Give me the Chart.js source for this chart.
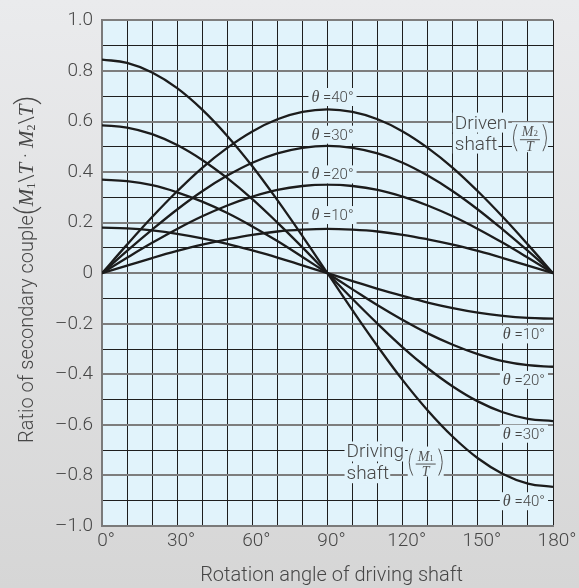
<!DOCTYPE html>
<html lang="en">
<head>
<meta charset="UTF-8" />
<title>Ratio of secondary couple</title>
<script src="https://cdn.jsdelivr.net/npm/chart.js"></script>
<style>
  html, body { margin: 0; padding: 0; }
  body { width: 579px; height: 588px; background: linear-gradient(#eaebed, #d6d6d6); overflow: hidden; }
  #wrap { position: relative; width: 579px; height: 588px; }
</style>
</head>
<body>
<div id="wrap"><canvas id="chart"></canvas></div>
<script>
  // rotation angle of the driving shaft (deg)
  const angles = [0, 10, 20, 30, 40, 50, 60, 70, 80, 90, 100, 110, 120, 130, 140, 150, 160, 170, 180];

  // driven shaft M2/T
  const driven10 = [0, 0.03, 0.06, 0.088, 0.113, 0.134, 0.152, 0.165, 0.172, 0.175, 0.172, 0.165, 0.152, 0.134, 0.113, 0.088, 0.06, 0.03, 0];
  const driven20 = [0, 0.061, 0.12, 0.175, 0.225, 0.268, 0.303, 0.33, 0.345, 0.35, 0.345, 0.33, 0.303, 0.268, 0.225, 0.175, 0.12, 0.061, 0];
  const driven30 = [0, 0.088, 0.172, 0.252, 0.324, 0.386, 0.437, 0.474, 0.496, 0.504, 0.496, 0.474, 0.437, 0.386, 0.324, 0.252, 0.172, 0.088, 0];
  const driven40 = [0, 0.113, 0.222, 0.324, 0.417, 0.496, 0.561, 0.609, 0.638, 0.648, 0.638, 0.609, 0.561, 0.496, 0.417, 0.324, 0.222, 0.113, 0];

  // driving shaft M1/T
  const driving10 = [0.18, 0.177, 0.169, 0.156, 0.138, 0.116, 0.09, 0.062, 0.031, 0, -0.031, -0.062, -0.09, -0.116, -0.138, -0.156, -0.169, -0.177, -0.18];
  const driving20 = [0.37, 0.364, 0.348, 0.32, 0.283, 0.238, 0.185, 0.127, 0.064, 0, -0.064, -0.127, -0.185, -0.238, -0.283, -0.32, -0.348, -0.364, -0.37];
  const driving30 = [0.585, 0.576, 0.55, 0.507, 0.448, 0.376, 0.293, 0.2, 0.102, 0, -0.102, -0.2, -0.293, -0.376, -0.448, -0.507, -0.55, -0.576, -0.585];
  const driving40 = [0.845, 0.832, 0.794, 0.732, 0.647, 0.543, 0.423, 0.289, 0.147, 0, -0.147, -0.289, -0.423, -0.543, -0.647, -0.732, -0.794, -0.832, -0.845];

  const thetaLabels = ['10°', '20°', '30°', '40°'];

  const SANS = "Roboto, 'Liberation Sans', sans-serif";
  const SERIF = "'Liberation Serif', 'DejaVu Serif', serif";
  const PLOT_BG = '#e1f3fb';
  const TEXT = '#474747';

  function series(vals) {
    return vals.map((v, i) => ({ x: angles[i], y: v }));
  }

  const allSeries = [driven10, driven20, driven30, driven40, driving10, driving20, driving30, driving40];

  const plotBg = {
    id: 'plotBg',
    beforeDraw(chart) {
      const a = chart.chartArea, c = chart.ctx;
      c.save();
      c.fillStyle = PLOT_BG;
      c.fillRect(a.left, a.top, a.right - a.left, a.bottom - a.top);
      c.restore();
    }
  };

  // box behind a piece of text, same colour as the plot so grid lines are hidden
  function box(c, x, y, w, h) {
    c.fillStyle = PLOT_BG;
    c.fillRect(x, y, w, h);
  }

  function drawTheta(c, label, cx, cy) {
    c.font = 'italic 16px ' + SERIF;
    const w1 = c.measureText('θ').width;
    c.font = '300 15px ' + SANS;
    const w2 = c.measureText(' =' + label).width;
    const w = w1 + w2;
    const x0 = cx - w / 2;
    box(c, x0 - 3, cy - 9, w + 6, 18);
    c.fillStyle = TEXT;
    c.textBaseline = 'alphabetic';
    c.textAlign = 'left';
    c.font = 'italic 16px ' + SERIF;
    c.fillText('θ', x0, cy + 5);
    c.font = '300 15px ' + SANS;
    c.fillText(' =' + label, x0 + w1, cy + 5);
  }

  function drawFrac(c, cx, by, sub) {
    box(c, cx - 18, by - 17, 36, 30);
    c.strokeStyle = '#555';
    c.fillStyle = '#555';
    c.lineWidth = 1;
    // parentheses
    c.beginPath();
    c.moveTo(cx - 13, by - 15);
    c.quadraticCurveTo(cx - 20, by - 1, cx - 13, by + 12);
    c.moveTo(cx + 13, by - 15);
    c.quadraticCurveTo(cx + 20, by - 1, cx + 13, by + 12);
    c.stroke();
    // bar
    c.beginPath();
    c.moveTo(cx - 10, by + 0.5);
    c.lineTo(cx + 10, by + 0.5);
    c.stroke();
    c.textBaseline = 'alphabetic';
    c.textAlign = 'left';
    c.font = 'italic 14px ' + SERIF;
    const mw = c.measureText('M').width;
    c.font = '9px ' + SERIF;
    const sw = c.measureText(sub).width;
    const nx = cx - (mw + sw) / 2;
    c.font = 'italic 14px ' + SERIF;
    c.fillText('M', nx, by - 3);
    c.font = '9px ' + SERIF;
    c.fillText(sub, nx + mw, by - 3);
    c.font = 'italic 14px ' + SERIF;
    c.textAlign = 'center';
    c.fillText('T', cx, by + 12);
  }

  function drawWords(c, words, x, baselines) {
    c.font = '300 19px ' + SANS;
    c.textAlign = 'left';
    c.textBaseline = 'alphabetic';
    words.forEach((t, i) => {
      const w = c.measureText(t).width;
      box(c, x - 2, baselines[i] - 16, w + 3, 20);
      c.fillStyle = TEXT;
      c.fillText(t, x, baselines[i]);
    });
  }

  const annotations = {
    id: 'annotations',
    afterDatasetsDraw(chart) {
      const c = chart.ctx;
      const xs = chart.scales.x, ys = chart.scales.y;
      c.save();
      // driven labels near the top of each curve
      const drivenY = [0.23, 0.391, 0.548, 0.697];
      thetaLabels.forEach((t, i) => drawTheta(c, t, xs.getPixelForValue(92), ys.getPixelForValue(drivenY[i])));
      // driving labels at the right
      const drivingY = [-0.242, -0.422, -0.635, -0.902];
      thetaLabels.forEach((t, i) => drawTheta(c, t, xs.getPixelForValue(168.4), ys.getPixelForValue(drivingY[i])));

      drawWords(c, ['Driven', 'shaft'], xs.getPixelForValue(140.8), [ys.getPixelForValue(0.572), ys.getPixelForValue(0.489)]);
      drawFrac(c, xs.getPixelForValue(170.8), ys.getPixelForValue(0.53), '2');

      drawWords(c, ['Driving', 'shaft'], xs.getPixelForValue(97.6), [ys.getPixelForValue(-0.729), ys.getPixelForValue(-0.815)]);
      drawFrac(c, xs.getPixelForValue(129.2), ys.getPixelForValue(-0.753), '1');
      c.restore();
    },
    afterDraw(chart) {
      const c = chart.ctx;
      const a = chart.chartArea;
      c.save();
      c.fillStyle = TEXT;
      c.textBaseline = 'alphabetic';
      c.textAlign = 'center';
      // x axis title
      c.font = '300 20px ' + SANS;
      c.fillText('Rotation angle of driving shaft', (a.left + a.right) / 2 + 4, 581);

      // y axis title, built from pieces
      const parts = [
        { t: 'Ratio of secondary couple', f: '300 20px ' + SANS, dy: 0 },
        { t: '(', f: '300 28px ' + SANS, dy: 2 },
        { t: 'M', f: 'italic 21px ' + SERIF, dy: 0 },
        { t: '1', f: '12px ' + SERIF, dy: 2 },
        { t: '\\', f: '300 21px ' + SANS, dy: 0 },
        { t: 'T', f: 'italic 21px ' + SERIF, dy: 0 },
        { t: ' · ', f: '300 20px ' + SANS, dy: -1 },
        { t: 'M', f: 'italic 21px ' + SERIF, dy: 0 },
        { t: '2', f: '12px ' + SERIF, dy: 2 },
        { t: '\\', f: '300 21px ' + SANS, dy: 0 },
        { t: 'T', f: 'italic 21px ' + SERIF, dy: 0 },
        { t: ')', f: '300 28px ' + SANS, dy: 2 }
      ];
      let total = 0;
      parts.forEach(p => { c.font = p.f; p.w = c.measureText(p.t).width; total += p.w; });
      c.translate(33, (a.top + a.bottom) / 2 - 4);
      c.rotate(-Math.PI / 2);
      c.textAlign = 'left';
      let px = -total / 2;
      parts.forEach(p => {
        c.font = p.f;
        c.fillText(p.t, px, p.dy);
        px += p.w;
      });
      c.restore();
    }
  };

  new Chart(document.getElementById('chart'), {
    type: 'line',
    data: {
      datasets: allSeries.map(s => ({
        data: series(s),
        borderColor: '#1c1c1c',
        borderWidth: 2.3,
        pointRadius: 0,
        fill: false,
        tension: 0.4
      }))
    },
    options: {
      responsive: true,
      maintainAspectRatio: false,
      animation: false,
      devicePixelRatio: 1,
      layout: { padding: { top: 17, right: 26, left: 0, bottom: 0 } },
      plugins: { legend: { display: false }, tooltip: { enabled: false } },
      scales: {
        x: {
          type: 'linear',
          min: 0,
          max: 180,
          afterFit: s => { s.height = 62; },
          ticks: {
            stepSize: 10,
            autoSkip: false,
            maxRotation: 0,
            padding: 4,
            labelOffset: 4,
            color: TEXT,
            font: { family: SANS, size: 19, weight: 300 },
            callback: v => (v % 30 === 0 ? v + '°' : '')
          },
          grid: { color: '#1e1e1e', lineWidth: 1, drawTicks: false },
          border: { display: true, color: '#7a7a7a', width: 2 }
        },
        y: {
          min: -1,
          max: 1,
          afterFit: s => { s.width = 102; },
          ticks: {
            stepSize: 0.1,
            autoSkip: false,
            padding: 9,
            color: TEXT,
            font: { family: SANS, size: 19, weight: 300 },
            callback: v => {
              const k = Math.round(v * 10);
              if (k % 2 !== 0) return '';
              if (k === 0) return '0';
              return (k < 0 ? '–' : '') + (Math.abs(k) / 10).toFixed(1);
            }
          },
          grid: {
            drawTicks: false,
            color: ctx => (Math.round(ctx.tick.value * 10) % 2 === 0 ? '#7d7d7d' : '#1e1e1e'),
            lineWidth: ctx => (Math.round(ctx.tick.value * 10) % 2 === 0 ? 2 : 1)
          },
          border: { display: true, color: '#7a7a7a', width: 2 }
        }
      }
    },
    plugins: [plotBg, annotations]
  });
</script>
</body>
</html>
